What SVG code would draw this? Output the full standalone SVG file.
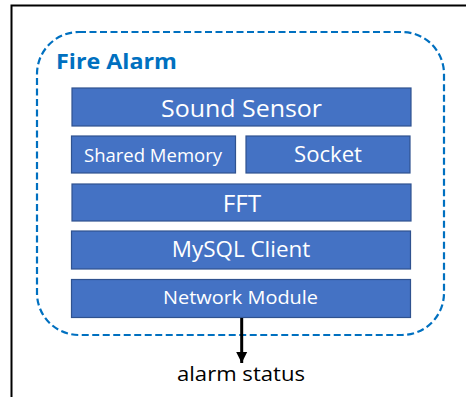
<svg xmlns="http://www.w3.org/2000/svg" width="466" height="397" viewBox="0 0 466 397">
  <defs>
    <style>
      .frame { fill: none; stroke: #000; stroke-width: 2; }
      .group { fill: none; stroke: #0070C0; stroke-width: 2.2; stroke-dasharray: 7 3.5; }
      .box { fill: #4472C4; stroke: #2F528F; stroke-width: 1.2; }
      .lbl { font-family: "Open Sans", "Noto Sans", "DejaVu Sans", sans-serif; fill: #fff; text-anchor: middle; }
      .title { font-family: "Open Sans", "Noto Sans", "DejaVu Sans", sans-serif; fill: #0070C0; font-weight: bold; font-size: 22px; }
      .out { font-family: "Open Sans", "Noto Sans", "DejaVu Sans", sans-serif; fill: #000; font-size: 20px; text-anchor: middle; }
      .wire { stroke: #000; stroke-width: 3; fill: none; }
    </style>
    <marker id="arrow" viewBox="0 0 10 10" refX="10" refY="5" markerUnits="userSpaceOnUse" markerWidth="11" markerHeight="12" orient="auto">
      <path d="M0,0 L10,5 L0,10 Z" fill="#000"/>
    </marker>
  </defs>

  <rect width="466" height="397" fill="#fff"/>
  <!-- page frame: top and left edges -->
  <path class="frame" d="M11.5,397 V5.5 H466"/>

  <!-- dashed container -->
  <g id="fire-alarm">
    <rect class="group" x="37" y="32" width="407" height="303" rx="42" ry="42"/>
    <text class="title" x="56" y="69" textLength="121" lengthAdjust="spacingAndGlyphs">Fire Alarm</text>
  </g>

  <g id="sound-sensor">
    <rect class="box" x="72" y="88" width="339" height="38"/>
    <text class="lbl" x="241.5" y="116.5" font-size="24" textLength="161" lengthAdjust="spacingAndGlyphs">Sound Sensor</text>
  </g>

  <g id="shared-memory">
    <rect class="box" x="71.5" y="136" width="164" height="37"/>
    <text class="lbl" x="153" y="162" font-size="18.5" textLength="138" lengthAdjust="spacingAndGlyphs">Shared Memory</text>
  </g>

  <g id="socket">
    <rect class="box" x="246" y="136" width="164" height="37"/>
    <text class="lbl" x="328" y="162" font-size="21.5" textLength="68" lengthAdjust="spacingAndGlyphs">Socket</text>
  </g>

  <g id="fft">
    <rect class="box" x="72" y="184" width="339" height="37"/>
    <text class="lbl" x="242" y="212.3" font-size="24" textLength="38.5" lengthAdjust="spacingAndGlyphs">FFT</text>
  </g>

  <g id="mysql-client">
    <rect class="box" x="71.5" y="231" width="339" height="38"/>
    <text class="lbl" x="241" y="256.7" font-size="22" textLength="138.5" lengthAdjust="spacingAndGlyphs">MySQL Client</text>
  </g>

  <g id="network-module">
    <rect class="box" x="71.5" y="279.5" width="339" height="38"/>
    <text class="lbl" x="240.5" y="304.3" font-size="18.5" textLength="155" lengthAdjust="spacingAndGlyphs">Network Module</text>
  </g>

  <g id="connectors">
    <line class="wire" x1="241.7" y1="318" x2="241.7" y2="363" marker-end="url(#arrow)"/>
  </g>

  <text class="out" x="241" y="381" textLength="128" lengthAdjust="spacingAndGlyphs">alarm status</text>
</svg>
